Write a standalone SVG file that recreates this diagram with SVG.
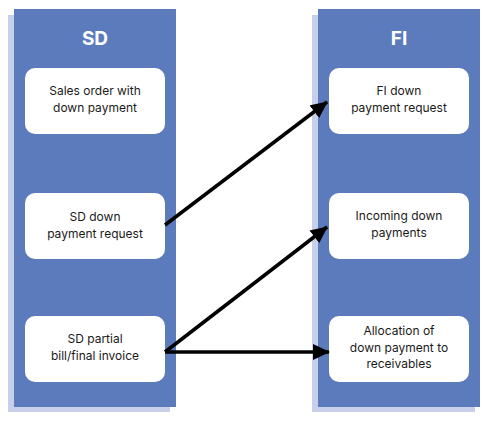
<svg xmlns="http://www.w3.org/2000/svg" width="489" height="422" viewBox="0 0 489 422">
<defs>
<style>
.shadow{fill:#c8cfe8}
.lane{fill:#5c7bbd}
.title{font-family:Inter,"Liberation Sans",sans-serif;font-weight:bold;font-size:19px;fill:#fff;text-anchor:middle}
.box{fill:#fff}
.lbl{font-family:Inter,"Liberation Sans",sans-serif;font-size:12px;fill:#1a1a1a;text-anchor:middle}
.conn{stroke:#000;stroke-width:3.5;fill:none;marker-end:url(#ah)}
</style>
<marker id="ah" markerUnits="userSpaceOnUse" markerWidth="18" markerHeight="16" refX="16" refY="8" orient="auto">
<path d="M0,0 L17,8 L0,16 Z" fill="#000"/>
</marker>
</defs>
<rect width="489" height="422" fill="#fff"/>
<g id="lane-sd">
<rect class="shadow" x="8" y="15" width="162" height="397"/>
<rect class="lane" x="14" y="9" width="162" height="398"/>
<text class="title" x="95" y="45">SD</text>
</g>
<g id="lane-fi">
<rect class="shadow" x="312" y="15" width="163" height="397"/>
<rect class="lane" x="318" y="9" width="162" height="398"/>
<text class="title" x="399" y="45">FI</text>
</g>
<g id="sd-sales-order">
<rect class="box" x="25" y="68" width="140" height="66" rx="10"/>
<text class="lbl" x="95" y="95">Sales order with</text>
<text class="lbl" x="95" y="112">down payment</text>
</g>
<g id="sd-down-payment-request">
<rect class="box" x="25" y="193" width="140" height="66" rx="10"/>
<text class="lbl" x="95" y="221">SD down</text>
<text class="lbl" x="95" y="238">payment request</text>
</g>
<g id="sd-partial-bill">
<rect class="box" x="25" y="316" width="140" height="66" rx="10"/>
<text class="lbl" x="95" y="343">SD partial</text>
<text class="lbl" x="95" y="360">bill/final invoice</text>
</g>
<g id="fi-down-payment-request">
<rect class="box" x="329" y="68" width="140" height="66" rx="10"/>
<text class="lbl" x="399" y="95">FI down</text>
<text class="lbl" x="399" y="112">payment request</text>
</g>
<g id="fi-incoming">
<rect class="box" x="329" y="193" width="140" height="66" rx="10"/>
<text class="lbl" x="399" y="220">Incoming down</text>
<text class="lbl" x="399" y="237">payments</text>
</g>
<g id="fi-allocation">
<rect class="box" x="329" y="316" width="140" height="66" rx="10"/>
<text class="lbl" x="399" y="335">Allocation of</text>
<text class="lbl" x="399" y="352">down payment to</text>
<text class="lbl" x="399" y="368">receivables</text>
</g>
<g id="connectors">
<line class="conn" x1="165" y1="225" x2="327" y2="102"/>
<line class="conn" x1="165" y1="352" x2="327" y2="227"/>
<line class="conn" x1="165" y1="352" x2="329" y2="352"/>
</g>
</svg>
